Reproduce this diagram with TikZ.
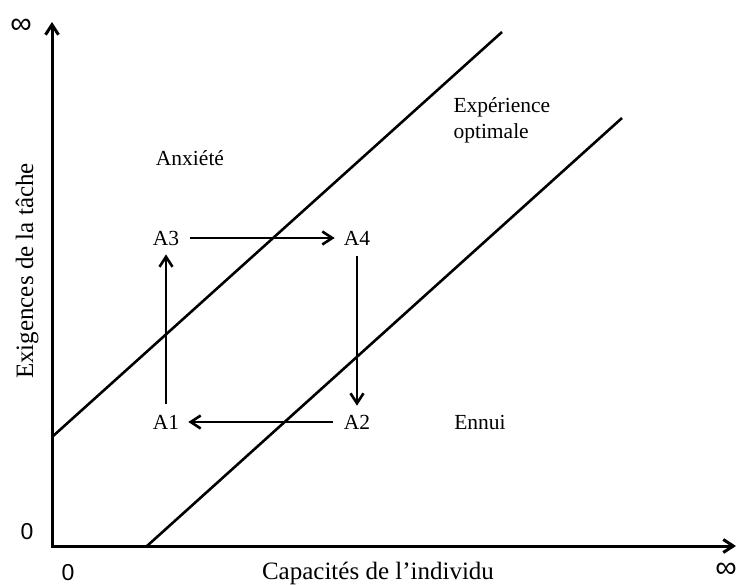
\documentclass[tikz,border=0pt]{standalone}
\usepackage{fontspec}
\setmainfont{Liberation Serif}
\newfontfamily\numfont{Liberation Sans}
\usetikzlibrary{arrows.meta}

\begin{document}
\begin{tikzpicture}[x=1pt, y=-1pt,
  axis/.style={{Straight Barb[length=10pt,width=13pt]}-{Straight Barb[length=10pt,width=13pt]}, line width=3pt, line join=miter},
  flow/.style={-{Straight Barb[length=10pt,width=13pt]}, line width=2.6pt, shorten <=6pt, shorten >=4pt},
  diag/.style={line width=2.6pt},
  state/.style={font=\fontsize{21.5}{26}\selectfont, inner sep=5pt},
  zone/.style={font=\fontsize{21.5}{26}\selectfont},
  axislabel/.style={font=\fontsize{25}{30}\selectfont},
  num/.style={font=\numfont\fontsize{23}{26}\selectfont},
  inf/.style={font=\numfont\fontsize{30}{32}\selectfont, inner sep=0pt}]
  \useasboundingbox (0,0) rectangle (742,585);

  \coordinate (origin) at (52,546);
  \coordinate (ytop) at (52,22);
  \coordinate (xend) at (736,546);
  \draw[axis] (ytop) -- (origin) -- (xend);

  \node[num] at (27,532) (zy) {0};
  \node[num] at (68,573) (zx) {0};
  \node[inf] at (21,26) (infy) {∞};
  \node[inf] at (726,570) (infx) {∞};

  \node[axislabel, rotate=90] at (27,271) (ylab) {Exigences de la tâche};
  \node[axislabel] at (378,573) (xlab) {Capacités de l’individu};

  % the two borders of the flow channel
  \coordinate (u0) at (52,437);
  \coordinate (u1) at (502,32);
  \coordinate (l0) at (147,546);
  \coordinate (l1) at (622,118);
  \draw[diag] (u0) -- (u1);
  \draw[diag] (l0) -- (l1);

  \node[zone] at (190,158) (anx) {Anxiété};
  \node[zone, align=left, anchor=west] at (450,120) (opt) {Expérience\\optimale};
  \node[zone] at (480,422) (ennui) {Ennui};

  \node[state] at (166,238) (A3) {A3};
  \node[state] at (357,238) (A4) {A4};
  \node[state] at (166,422) (A1) {A1};
  \node[state] at (357,422) (A2) {A2};

  \draw[flow] (A3) -- (A4);
  \draw[flow] (A4) -- (A2);
  \draw[flow] (A2) -- (A1);
  \draw[flow] (A1) -- (A3);
\end{tikzpicture}
\end{document}
